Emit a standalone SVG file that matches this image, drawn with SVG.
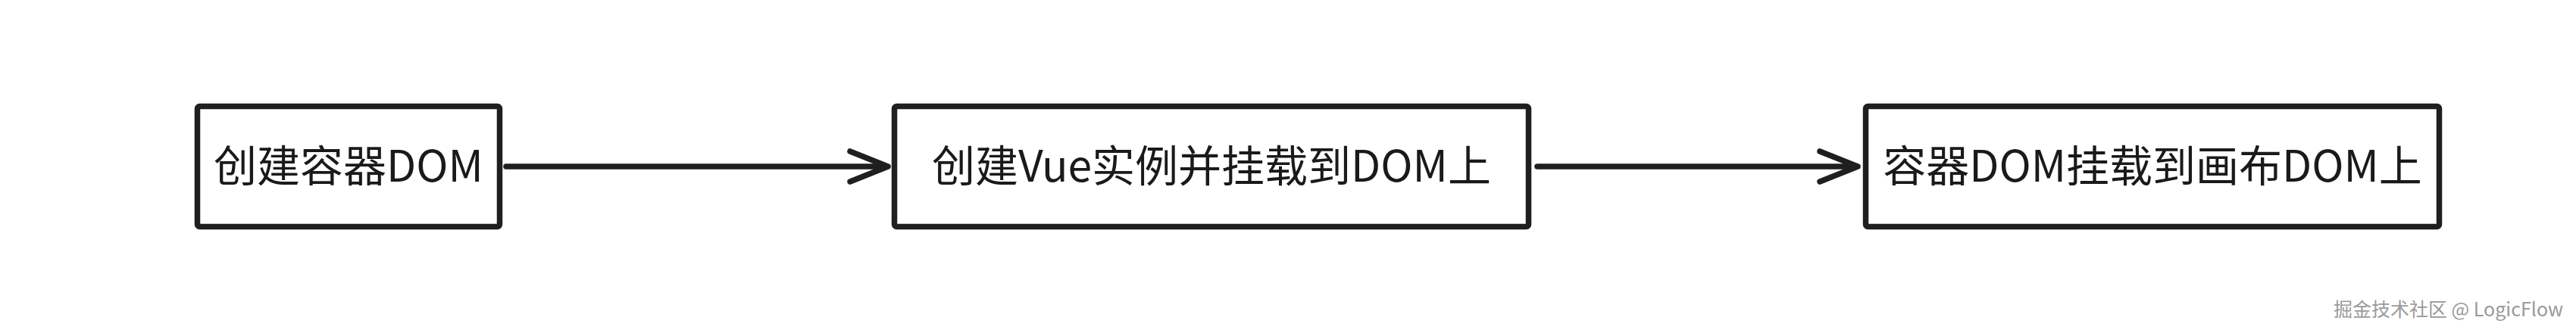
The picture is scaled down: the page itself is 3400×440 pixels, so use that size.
<svg xmlns="http://www.w3.org/2000/svg" width="3400" height="440" viewBox="0 0 3400 440">
  <style>
    .node rect { fill: #ffffff; stroke: #1f1f1f; stroke-width: 7.5; }
    .node text { font-family: "Noto Sans CJK SC", "Noto Sans", sans-serif; font-size: 57px; fill: #1a1a1a; text-anchor: middle; }
    .edge { fill: none; stroke: #1f1f1f; stroke-width: 7.5; stroke-linecap: round; stroke-linejoin: round; }
    .wm { font-family: "Noto Sans CJK SC", "Noto Sans", sans-serif; font-size: 25px; fill: #9a9a9a; text-anchor: end; }
  </style>
  <rect width="3400" height="440" fill="#ffffff"/>
  <g id="node1" class="node">
    <rect x="260.5" y="140.5" width="399" height="159" rx="3"/>
    <text x="460" y="240">创建容器DOM</text>
  </g>
  <g id="node2" class="node">
    <rect x="1180.5" y="140.5" width="837" height="159" rx="3"/>
    <text x="1599" y="240">创建Vue实例并挂载到DOM上</text>
  </g>
  <g id="node3" class="node">
    <rect x="2462.5" y="140.5" width="757" height="159" rx="3"/>
    <text x="2841" y="240">容器DOM挂载到画布DOM上</text>
  </g>
  <g id="connectors">
    <path class="edge" d="M668 220 H1172 M1122 200 L1172 220 L1122 240"/>
    <path class="edge" d="M2029 220 H2452 M2402 200 L2452 220 L2402 240"/>
  </g>
  <text class="wm" x="3383" y="418">掘金技术社区 @ LogicFlow</text>
</svg>
